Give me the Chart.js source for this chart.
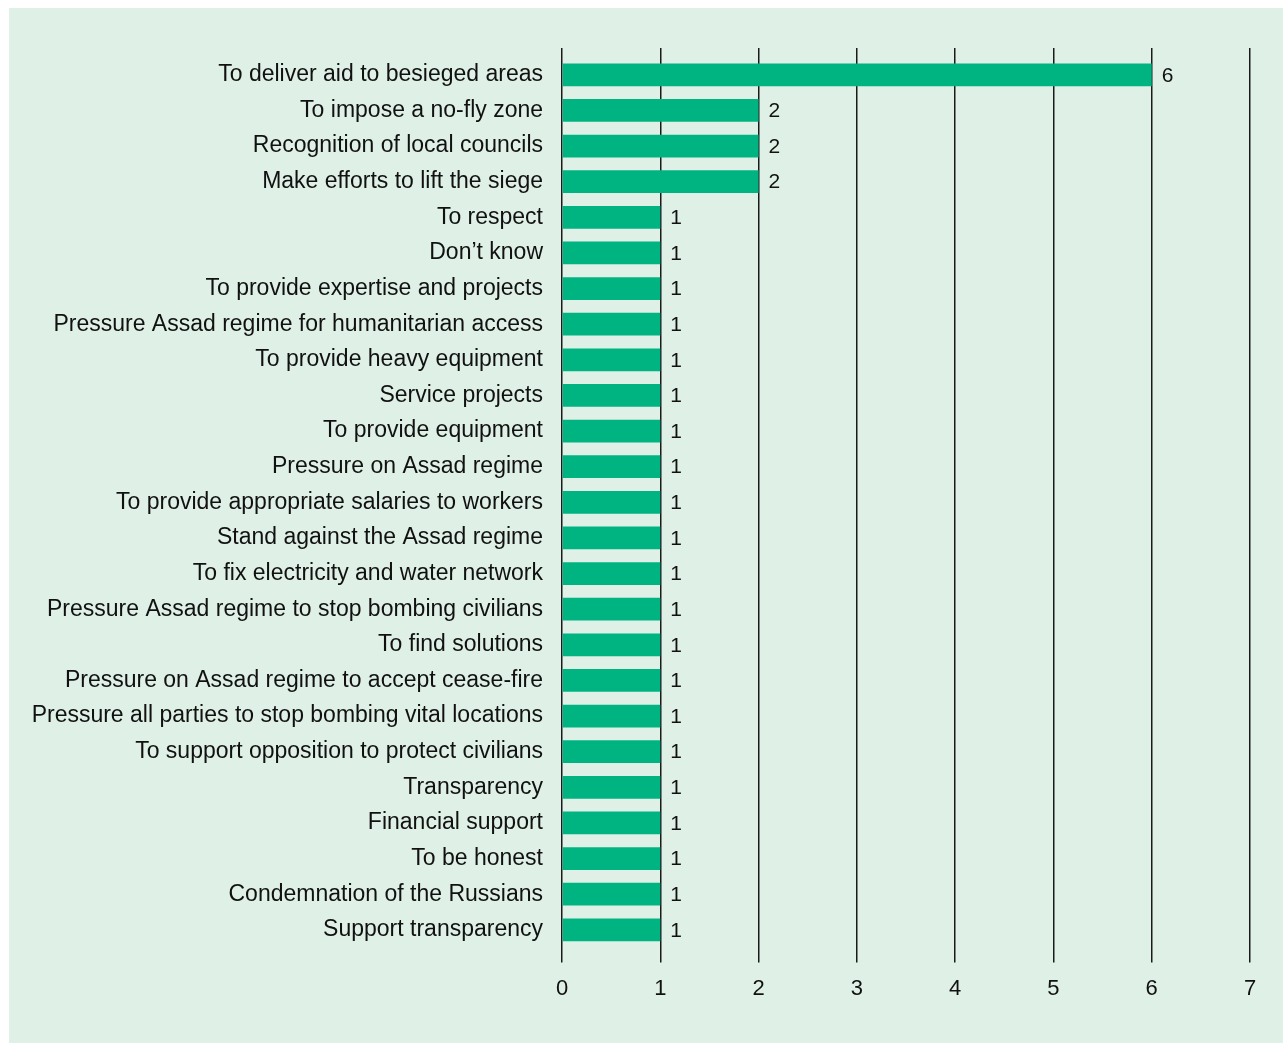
<!DOCTYPE html>
<html>
<head>
<meta charset="utf-8">
<script src="https://cdn.jsdelivr.net/npm/chart.js@4.4.0/dist/chart.umd.min.js"></script>
<style>
  html, body { margin: 0; padding: 0; background: #ffffff; }
  #panel {
    position: absolute; left: 9px; top: 8px;
    width: 1274px; height: 1035px;
    background: #dff0e6;
  }
</style>
</head>
<body>
<div id="panel"><canvas id="chart" width="1274" height="1035"></canvas></div>
<script>
// categories, top to bottom
const categories = [
  'To deliver aid to besieged areas',
  'To impose a no-fly zone',
  'Recognition of local councils',
  'Make efforts to lift the siege',
  'To respect',
  'Don\u2019t know',
  'To provide expertise and projects',
  'Pressure Assad regime for humanitarian access',
  'To provide heavy equipment',
  'Service projects',
  'To provide equipment',
  'Pressure on Assad regime',
  'To provide appropriate salaries to workers',
  'Stand against the Assad regime',
  'To fix electricity and water network',
  'Pressure Assad regime to stop bombing civilians',
  'To find solutions',
  'Pressure on Assad regime to accept cease-fire',
  'Pressure all parties to stop bombing vital locations',
  'To support opposition to protect civilians',
  'Transparency',
  'Financial support',
  'To be honest',
  'Condemnation of the Russians',
  'Support transparency'
];
const counts = [6, 2, 2, 2, 1, 1, 1, 1, 1, 1, 1, 1, 1, 1, 1, 1, 1, 1, 1, 1, 1, 1, 1, 1, 1];
const xTicks = [0, 1, 2, 3, 4, 5, 6, 7];

const FONT = "'Liberation Sans', Arial, Helvetica, sans-serif";
const INK = '#111111';
const GRID = '#1a1a1a';

// value labels at the end of each bar
const valueLabels = {
  id: 'valueLabels',
  afterDatasetsDraw(chart) {
    const { ctx } = chart;
    const meta = chart.getDatasetMeta(0);
    ctx.save();
    ctx.font = '21px ' + FONT;
    ctx.fillStyle = INK;
    ctx.textAlign = 'left';
    ctx.textBaseline = 'middle';
    meta.data.forEach((bar, i) => {
      ctx.fillText(String(counts[i]), bar.x + 10, bar.y + 1);
    });
    ctx.restore();
  }
};

const xScaleBase = {
  min: 0,
  max: 7,
  afterBuildTicks: (s) => { s.ticks = xTicks.map(v => ({ value: v })); },
  border: { display: false }
};

new Chart(document.getElementById('chart'), {
  type: 'bar',
  data: {
    labels: categories,
    datasets: [{
      data: counts,
      backgroundColor: '#00b482',
      borderWidth: 0,
      barPercentage: 0.64,
      categoryPercentage: 1.0
    }]
  },
  options: {
    indexAxis: 'y',
    responsive: false,
    animation: false,
    layout: { padding: { top: 40, right: 33, bottom: 28, left: 0 } },
    plugins: { legend: { display: false }, tooltip: { enabled: false } },
    scales: {
      x: {
        ...xScaleBase,
        position: 'bottom',
        grid: { color: GRID, lineWidth: 1.5, tickLength: 15, drawTicks: true },
        ticks: { color: INK, font: { family: FONT, size: 22 }, padding: 13 }
      },
      x2: {
        ...xScaleBase,
        position: 'top',
        grid: { color: GRID, lineWidth: 1.5, tickLength: 9, drawTicks: true, drawOnChartArea: false },
        ticks: { display: false }
      },
      y: {
        afterFit: (s) => { s.width = 553; },
        grid: { display: false, drawTicks: false },
        border: { display: false },
        ticks: { color: INK, font: { family: FONT, size: 23 }, padding: 19, autoSkip: false }
      }
    }
  },
  plugins: [valueLabels]
});
</script>
</body>
</html>
